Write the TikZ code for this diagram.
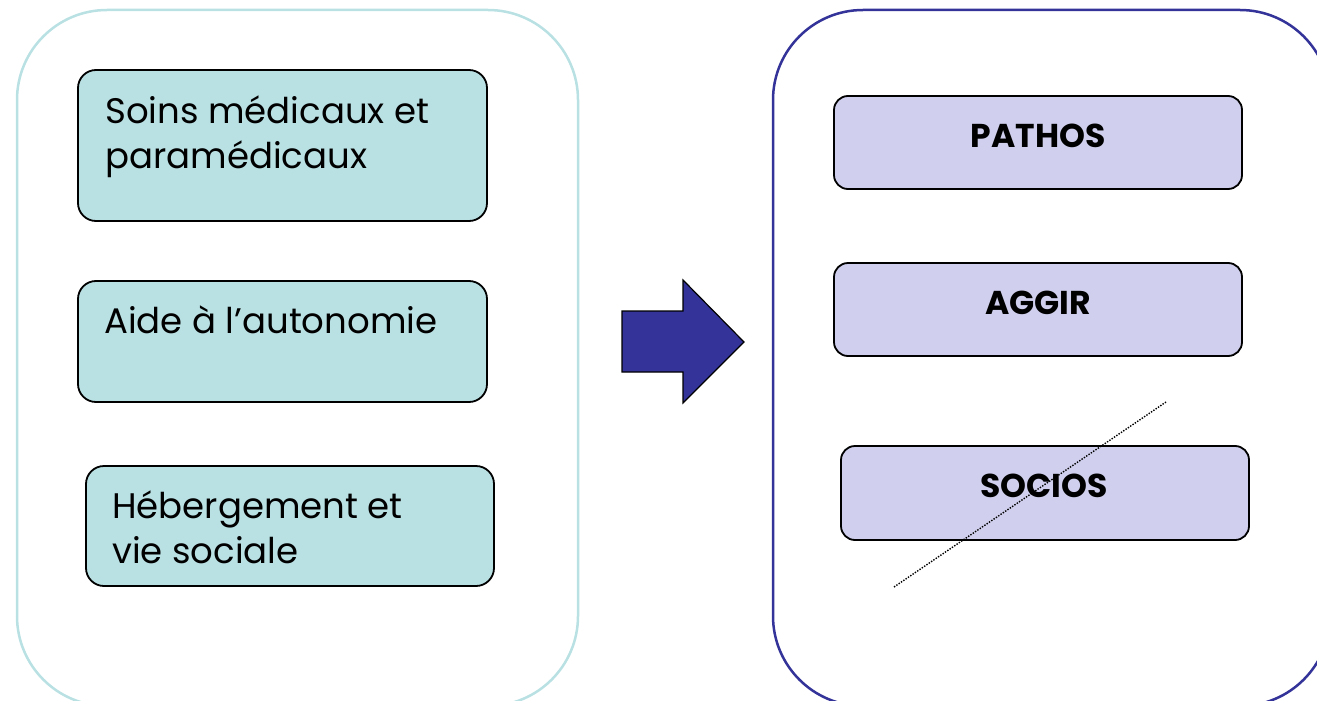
\documentclass[tikz,border=0pt]{standalone}
\usepackage{fontspec}
\setmainfont{Poppins}
\definecolor{teal}{HTML}{B9E0E3}
\definecolor{lav}{HTML}{D0D0EE}
\definecolor{navy}{HTML}{333399}
\tikzset{
  outerL/.style={draw=teal, line width=2.5pt, rounded corners=90pt},
  outerR/.style={draw=navy, line width=2.5pt, rounded corners=90pt},
  boxL/.style={draw=black, line width=1.8pt, fill=teal, rounded corners=18pt},
  boxR/.style={draw=black, line width=1.8pt, fill=lav, rounded corners=14pt},
  txt/.style={font=\fontsize{35.5}{45}\selectfont, anchor=base west, inner sep=0pt, align=left},
  btxt/.style={font=\fontsize{33}{38}\selectfont\bfseries, anchor=base, inner sep=0pt},
}
\begin{document}
\begin{tikzpicture}[x=1pt,y=-1pt]
\useasboundingbox (0,0) rectangle (1317,701);
\begin{scope}
\clip (0,0) rectangle (1317,701);
\draw[outerL] (17,10) rectangle (578,706);
\draw[outerR] (773,10) rectangle (1330,706);
\end{scope}
% left boxes
\draw[boxL] (78,70) rectangle (487,221);
\draw[boxL] (78,281) rectangle (487,402);
\draw[boxL] (86,466) rectangle (494,586);
\node[txt] (t1) at (105,123) {Soins médicaux et};
\node[txt] (t1b) at (105,168) {paramédicaux};
\node[txt] (t2) at (104,333) {Aide à l’autonomie};
\node[txt] (t3) at (112,518) {Hébergement et};
\node[txt] (t3b) at (112,563) {vie sociale};
% arrow
\draw[fill=navy, line width=1.2pt, line join=miter]
  (622,311) -- (683,311) -- (683,280) -- (744,342) -- (683,403) -- (683,372) -- (622,372) -- cycle;
% right boxes
\draw[boxR] (834,96) rectangle (1242,189);
\draw[boxR] (834,263) rectangle (1242,356);
\draw[boxR] (841,446) rectangle (1249,540);
\node[btxt] (p) at (1038,147) {PATHOS};
\node[btxt] (a) at (1038,314) {AGGIR};
\node[btxt] (s) at (1044,497) {SOCIOS};
\coordinate (d1) at (894,587);
\coordinate (d2) at (1166,402);
\draw[line width=1.4pt, dash pattern=on 1.4pt off 1.4pt] (d1) -- (d2);
\end{tikzpicture}
\end{document}
